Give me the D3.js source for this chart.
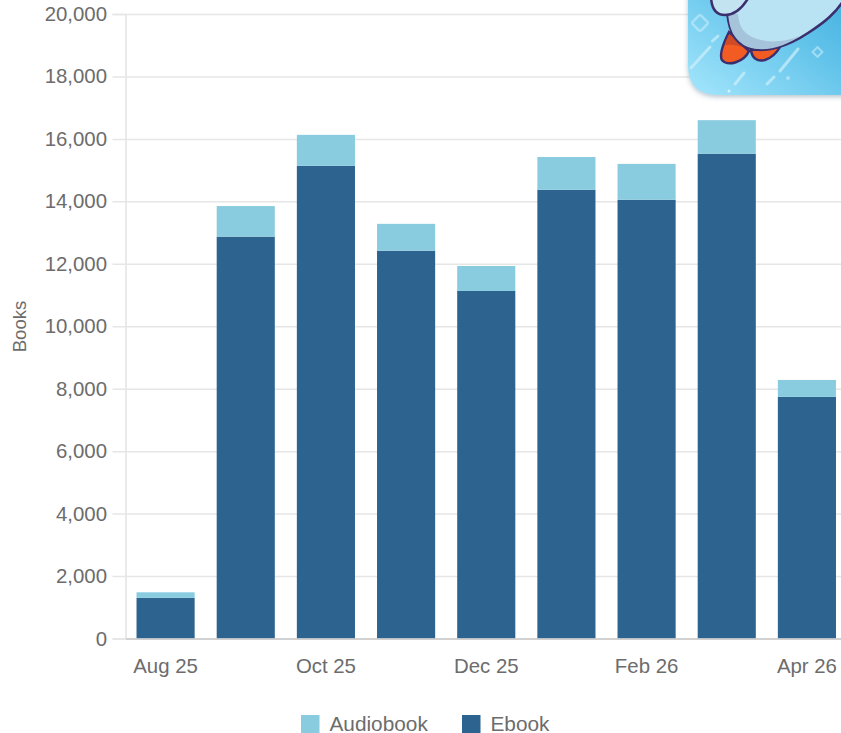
<!DOCTYPE html>
<html>
<head>
<meta charset="utf-8">
<script src="https://cdn.jsdelivr.net/npm/d3@7"></script>
<style>
  html, body { margin: 0; padding: 0; background: #fff; overflow: hidden; }
  text { font-family: "Liberation Sans", sans-serif; fill: #6c6c6c; }
</style>
</head>
<body>
<svg id="chart" width="841" height="733" xmlns="http://www.w3.org/2000/svg"></svg>
<script>
const months = ['Aug 25', 'Sep 25', 'Oct 25', 'Nov 25', 'Dec 25', 'Jan 26', 'Feb 26', 'Mar 26', 'Apr 26'];
const ebook = [1300, 12870, 15140, 12420, 11130, 14370, 14050, 15520, 7740];
const audiobook = [180, 980, 990, 860, 800, 1050, 1150, 1080, 540];
const yTicks = [0, 2000, 4000, 6000, 8000, 10000, 12000, 14000, 16000, 18000, 20000];
const xLabels = ['Aug 25', 'Oct 25', 'Dec 25', 'Feb 26', 'Apr 26'];
const seriesNames = ['Ebook', 'Audiobook'];
const legendNames = ['Audiobook', 'Ebook'];
const colours = { Ebook: '#2c648f', Audiobook: '#8accdf' };

const svg = d3.select('#chart');
const plotLeft = 125.5, plotRight = 847, plotTop = 14, plotBottom = 638.5;

const x = d3.scaleBand().domain(months).range([plotLeft, plotRight]).paddingInner(0.275).paddingOuter(0.1375);
const y = d3.scaleLinear().domain([0, 20000]).range([plotBottom, plotTop]);

// grid + y labels
const yAxis = svg.append('g')
  .attr('transform', 'translate(' + plotLeft + ',0)')
  .call(d3.axisLeft(y).tickValues(yTicks).tickFormat(d3.format(',')).tickSize(13).tickPadding(5));
yAxis.select('.domain').attr('stroke', '#e4e4e4').attr('stroke-width', 1.5);
yAxis.selectAll('.tick line')
  .attr('x2', plotRight - plotLeft)
  .attr('x1', -13)
  .attr('stroke', '#e6e6e6')
  .attr('stroke-width', 1.5);
yAxis.selectAll('.tick text').style('font-size', '20.4px').attr('x', -18.5);

// stacked bars
const rows = months.map((m, i) => ({ month: m, Ebook: ebook[i], Audiobook: audiobook[i] }));
const stacked = d3.stack().keys(seriesNames)(rows);
svg.append('g').selectAll('g')
  .data(stacked)
  .enter()
  .append('g')
  .attr('fill', d => colours[d.key])
  .selectAll('rect')
  .data(d => d)
  .enter()
  .append('rect')
  .attr('x', d => x(d.data.month))
  .attr('width', x.bandwidth())
  .attr('y', d => y(d[1]))
  .attr('height', d => y(d[0]) - y(d[1]));

// x axis
const xAxis = svg.append('g')
  .attr('transform', 'translate(0,' + plotBottom + ')')
  .call(d3.axisBottom(x).tickValues(xLabels).tickSize(0).tickPadding(20.5));
xAxis.select('.domain').attr('stroke', '#c9c9c9').attr('stroke-width', 1.5);
xAxis.selectAll('.tick text').style('font-size', '20.4px');

svg.append('text')
  .attr('transform', 'translate(26,326.5) rotate(-90)')
  .attr('text-anchor', 'middle')
  .style('font-size', '18.6px')
  .text('Books');

// legend
const legendX = [301, 462];
const legend = svg.append('g').selectAll('g')
  .data(legendNames)
  .enter()
  .append('g')
  .attr('transform', (d, i) => 'translate(' + legendX[i] + ',715)');
legend.append('rect').attr('width', 18.5).attr('height', 18.5).attr('fill', d => colours[d]);
legend.append('text')
  .attr('x', 28.5)
  .attr('y', 16)
  .style('font-size', '20.8px')
  .text(d => d);

// app icon in the corner
const defs = svg.append('defs');
const grad = defs.append('linearGradient').attr('id', 'iconBg')
  .attr('x1', 0).attr('y1', 1).attr('x2', 1).attr('y2', 0);
grad.append('stop').attr('offset', '0').attr('stop-color', '#a4e6fc');
grad.append('stop').attr('offset', '0.55').attr('stop-color', '#62c3ea');
grad.append('stop').attr('offset', '1').attr('stop-color', '#35a9d9');
const blur = defs.append('filter').attr('id', 'iconShadow').attr('x', '-20%').attr('y', '-20%').attr('width', '140%').attr('height', '140%');
blur.append('feDropShadow').attr('dx', 0).attr('dy', 2).attr('stdDeviation', 2.5).attr('flood-color', '#4a6a80').attr('flood-opacity', 0.4);
defs.append('clipPath').attr('id', 'iconClip')
  .append('path').attr('d', 'M688,-30 H860 V95 H718 Q688,95 688,65 Z');

const icon = svg.append('g');
icon.append('path').attr('d', 'M688,-30 H860 V95 H718 Q688,95 688,65 Z')
  .attr('fill', 'url(#iconBg)').attr('filter', 'url(#iconShadow)');
const art = icon.append('g').attr('clip-path', 'url(#iconClip)');
const ink = '#3b2f6e';
// flames
art.append('path').attr('d', 'M729,32 C724,42 719,55 722,60 C728,67 744,62 749,51 Z')
  .attr('fill', '#f25c23').attr('stroke', ink).attr('stroke-width', 2.5);
art.append('path').attr('d', 'M729.5,34 C727,38 726,41 725,45 C733,44 740,46 745,48 Z').attr('fill', '#cf4a25');
art.append('path').attr('d', 'M751,50 C752,58 757,62 765,60 C771,58 776,54 780,47 Z')
  .attr('fill', '#f25c23').attr('stroke', ink).attr('stroke-width', 2.5);
// body
art.append('path').attr('d', 'M727,5 C727,25 732,42 748,48 C766,54 790,45 808,33 C825,22 836,13 845,-2 L845,-10 L727,-10 Z')
  .attr('fill', '#b9e2f2').attr('stroke', ink).attr('stroke-width', 2.5);
art.append('path').attr('d', 'M728,12 C729,28 733,40 748,47 C766,53 785,46 800,36 C785,42 768,44 752,37 C742,32 739,25 738,14 Z')
  .attr('fill', '#a5c3da');
// fin
art.append('path').attr('d', 'M711,-5 C711,8 716,15 725,15 C735,15 743,8 750,-5 Z')
  .attr('fill', '#c4e3f1').attr('stroke', ink).attr('stroke-width', 2.5);
// sparkle lines
const sparkle = [
  [691, 68, 710, 47], [712.5, 41, 718, 36], [735, 84, 744, 73],
  [767, 84, 774, 77], [780, 71, 798, 49]
];
art.selectAll('line.spark')
  .data(sparkle)
  .enter()
  .append('line')
  .attr('class', 'spark')
  .attr('x1', d => d[0]).attr('y1', d => d[1])
  .attr('x2', d => d[2]).attr('y2', d => d[3])
  .attr('stroke', '#cdeffb').attr('stroke-opacity', 0.7)
  .attr('stroke-width', 3).attr('stroke-linecap', 'round');
art.append('circle').attr('cx', 729).attr('cy', 91).attr('r', 1.5).attr('fill', '#d8f4fd');
art.append('circle').attr('cx', 788).attr('cy', 78).attr('r', 2).attr('fill', '#a9e0f5');
art.append('rect').attr('x', -6).attr('y', -6).attr('width', 12).attr('height', 12).attr('rx', 2)
  .attr('transform', 'translate(700,23) rotate(45)')
  .attr('fill', 'none').attr('stroke', '#cdeffb').attr('stroke-opacity', 0.55).attr('stroke-width', 2.5);
art.append('rect').attr('x', -3.5).attr('y', -3.5).attr('width', 7).attr('height', 7)
  .attr('transform', 'translate(817.5,52) rotate(45)')
  .attr('fill', 'none').attr('stroke', '#cdeffb').attr('stroke-opacity', 0.6).attr('stroke-width', 2);
</script>
</body>
</html>
